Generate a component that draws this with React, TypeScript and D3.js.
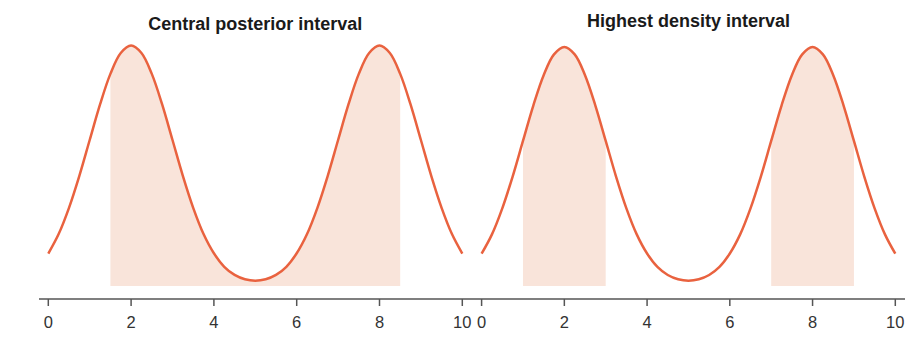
import React from 'react'
import * as d3 from 'd3'

// x grid and density (two-peaked posterior)
const xs = [
  0, 0.25, 0.5, 0.75, 1, 1.25, 1.5, 1.75, 2, 2.25, 2.5, 2.75, 3, 3.25, 3.5, 3.75, 4, 4.25, 4.5, 4.75,
  5, 5.25, 5.5, 5.75, 6, 6.25, 6.5, 6.75, 7, 7.25, 7.5, 7.75, 8, 8.25, 8.5, 8.75, 9, 9.25, 9.5, 9.75, 10,
]
const density = [
  0.135, 0.216, 0.325, 0.458, 0.607, 0.755, 0.882, 0.969, 1.0, 0.969, 0.882, 0.755, 0.607, 0.458, 0.325, 0.216,
  0.136, 0.08, 0.046, 0.028, 0.022, 0.028, 0.046, 0.08, 0.136, 0.216, 0.325, 0.458, 0.607, 0.755, 0.882, 0.969,
  1.0, 0.969, 0.882, 0.755, 0.607, 0.458, 0.325, 0.216, 0.135,
]
const ticks = [0, 2, 4, 6, 8, 10]

const panels = [
  { title: 'Central posterior interval', intervals: [[1.5, 8.5]], left: 48.3, right: 462.3, top: 45.5, titleY: 30, ax0: 39, ax1: 472 },
  { title: 'Highest density interval', intervals: [[1, 3], [7, 9]], left: 481.6, right: 895.3, top: 47, titleY: 27, ax0: 472, ax1: 905 },
]

const W = 920
const H = 352
const lineColor = '#e9623f'
const fillColor = '#f9e4da'
const axisY = 299

const pts = xs.map((x, i) => ({ x, y: density[i] }))

const Panel = ({ p }: { p: typeof panels[0] }) => {
  const x = d3.scaleLinear().domain([0, 10]).range([p.left, p.right])
  const y = d3.scaleLinear().domain([0, 1]).range([286, p.top])

  const line = d3.line<{ x: number; y: number }>()
    .x(d => x(d.x))
    .y(d => y(d.y))
    .curve(d3.curveCatmullRom)

  const area = d3.area<{ x: number; y: number }>()
    .x(d => x(d.x))
    .y0(y(0))
    .y1(d => y(d.y))
    .curve(d3.curveCatmullRom)

  const mid = (p.left + p.right) / 2
  return (
    <g>
      {p.intervals.map(([a, b], i) => {
        const id = `clip-${Math.round(p.left)}-${i}`
        return (
          <g key={i}>
            <clipPath id={id}>
              <rect x={x(a)} y={0} width={x(b) - x(a)} height={H} />
            </clipPath>
            <path d={area(pts) || ''} fill={fillColor} clipPath={`url(#${id})`} />
          </g>
        )
      })}
      <path d={line(pts) || ''} fill="none" stroke={lineColor} strokeWidth={2.5} />
      <text x={mid} y={p.titleY} textAnchor="middle" fontFamily="Liberation Sans, Arial, sans-serif"
        fontWeight="bold" fontSize={18} fill="#1a1a1a">{p.title}</text>
      <line x1={p.ax0} x2={p.ax1} y1={axisY} y2={axisY} stroke="#555" strokeWidth={1.5} />
      {ticks.map(t => (
        <g key={t}>
          <line x1={x(t)} x2={x(t)} y1={axisY} y2={axisY + 7} stroke="#555" strokeWidth={1.5} />
          <text x={x(t)} y={328} textAnchor="middle" fontFamily="Liberation Sans, Arial, sans-serif"
            fontSize={16.5} fill="#333">{t}</text>
        </g>
      ))}
    </g>
  )
}

export default function App() {
  return (
    <svg width={W} height={H} style={{ position: 'absolute', left: 0, top: 0, background: '#fff' }}>
      <rect width={W} height={H} fill="#fff" />
      {panels.map(p => <Panel key={p.title} p={p} />)}
    </svg>
  )
}
